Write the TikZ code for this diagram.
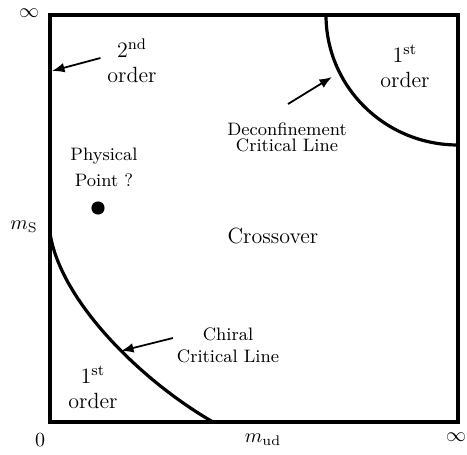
\documentclass[tikz,border=0pt]{standalone}
\usepackage{amsmath}
\usepackage{tikz}
\usetikzlibrary{arrows.meta}

\begin{document}
\begin{tikzpicture}[x=0.5pt,y=-0.5pt,
    >={Latex[length=2.2mm,width=1.7mm]},
    frame/.style={line width=2.1pt,black},
    crit/.style={line width=1.6pt,black},
    pointer/.style={->,line width=0.9pt},
    lbl/.style={font=\fontsize{11}{12.5}\selectfont,align=center},
    note/.style={font=\small,align=center},
    alab/.style={font=\normalsize,inner sep=0pt}]
\useasboundingbox (0,0) rectangle (467,455);
% ===== phase diagram frame =====
\draw[frame] (50,15) rectangle (458,422);
% ===== critical lines =====
\draw[crit] (326,15) arc[start angle=180,end angle=270,x radius=66pt,y radius=65pt];
\draw[crit] (50,233) .. controls (60,300) and (140,380) .. (213,422);
\fill (98,208) circle (3.3pt);
% ===== axis labels =====
\node[alab] (inftop) at (29,13) {$\infty$};
\node[alab] (infright) at (456,437) {$\infty$};
\node[alab] (zero) at (40,440) {$0$};
\node[alab] (ms) at (24,227) {$m_{\mathrm{S}}$};
\node[alab] (mud) at (263,440) {$m_{\mathrm{ud}}$};
% ===== region labels =====
\node[lbl] (second) at (132,61) {2\textsuperscript{nd}\\order};
\node[lbl] (firsttop) at (405,66) {1\textsuperscript{st}\\order};
\node[lbl] (firstbot) at (93,387) {1\textsuperscript{st}\\order};
\node[lbl] (cross) at (273,236) {Crossover};
\node[note] (phys) at (104,167) {Physical\\[2pt]Point ?};
\node[note] (deconf) at (287,137) {Deconfinement\\[-3pt]Critical Line};
\node[note] (chiral) at (228,345) {Chiral\\Critical Line};
% ===== pointers =====
\coordinate (secondtip) at (52,71);
\coordinate (deconftip) at (332,77);
\coordinate (chiraltip) at (121,351);
\draw[pointer] (second.west |- 0,58) -- (secondtip);
\draw[pointer] (288,104) -- (deconftip);
\draw[pointer] (173,338) -- (chiraltip);
\end{tikzpicture}
\end{document}
